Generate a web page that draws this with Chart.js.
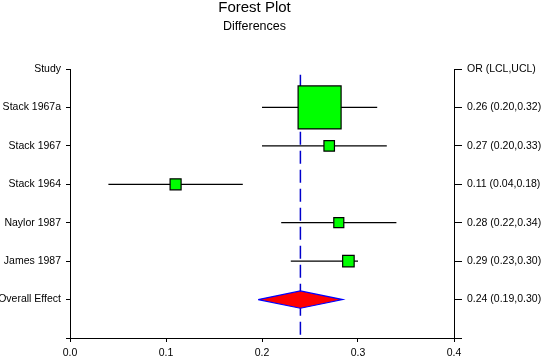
<!DOCTYPE html>
<html>
<head>
<meta charset="utf-8">
<script src="https://cdn.jsdelivr.net/npm/chart.js@4"></script>
<style>
  html, body { margin: 0; padding: 0; background: #fff; }
  #wrap { width: 541px; height: 358px; position: relative; }
</style>
</head>
<body>
<div id="wrap"><canvas id="c" width="541" height="358"></canvas></div>
<script>
// ---- data ----
const titleText = 'Forest Plot';
const subtitleText = 'Differences';
const leftHeader = 'Study';
const rightHeader = 'OR (LCL,UCL)';
const studies = ['Stack 1967a', 'Stack 1967', 'Stack 1964', 'Naylor 1987', 'James 1987'];
const estimates = [0.26, 0.27, 0.11, 0.28, 0.29];
const lowerCL = [0.20, 0.20, 0.04, 0.22, 0.23];
const upperCL = [0.32, 0.33, 0.18, 0.34, 0.30];
const weights = [43, 10.5, 11, 10, 11.5];      // relative study weight (box side)
const overallLabel = 'Overall Effect';
const overallEst = 0.24;
const overallLCL = 0.19;
const overallUCL = 0.30;
const diamondLo = 0.196;
const diamondHi = 0.284;
const xTicks = [0.0, 0.1, 0.2, 0.3, 0.4];

// ---- build ----
const FONT = "'Liberation Sans', Arial, sans-serif";
const f2 = v => v.toFixed(2);
const leftLabels = [leftHeader, ...studies, overallLabel, ''];
const rightLabels = [rightHeader,
  ...studies.map((s, i) => `${f2(estimates[i])} (${f2(lowerCL[i])},${f2(upperCL[i])})`),
  `${f2(overallEst)} (${f2(overallLCL)},${f2(overallUCL)})`, ''];
const nRows = leftLabels.length - 1;

const datasets = [];
datasets.push({
  showLine: true, order: 10,
  data: [{x: overallEst, y: 0.15}, {x: overallEst, y: nRows}],
  borderColor: '#0000CC', borderWidth: 1.5, borderDash: [13, 6],
  pointRadius: 0, fill: false
});
studies.forEach((s, i) => {
  datasets.push({
    showLine: true, order: 5,
    data: [{x: lowerCL[i], y: i + 1}, {x: upperCL[i], y: i + 1}],
    borderColor: '#000', borderWidth: 1.2, pointRadius: 0, fill: false
  });
});
const boxR = weights.map(w => w / (2 * Math.SQRT1_2));
datasets.push({
  order: 1,
  data: estimates.map((e, i) => ({x: e, y: i + 1})),
  pointStyle: 'rect',
  pointRadius: boxR, pointHoverRadius: boxR,
  backgroundColor: '#00FF00', borderColor: '#000', borderWidth: 1.2
});
const oy = studies.length + 1;
const dh = 0.226;
datasets.push({
  showLine: true, order: 1,
  data: [{x: diamondLo, y: oy}, {x: overallEst, y: oy - dh}, {x: diamondHi, y: oy},
         {x: overallEst, y: oy + dh}, {x: diamondLo, y: oy}],
  borderColor: '#0000FF', borderWidth: 1.2, backgroundColor: '#FF0000',
  fill: 'shape', tension: 0, pointRadius: 0
});

const X_AXIS_H = 20;
const layoutFix = {
  id: 'layoutFix',
  afterLayout(chart) {
    const bottom = chart.height - X_AXIS_H;
    const ca = chart.chartArea;
    ca.bottom = bottom; ca.height = bottom - ca.top;
    ['y', 'y2'].forEach(id => {
      const s = chart.scales[id];
      s.bottom = bottom; s.height = bottom - s.top;
      s.configure(); s._labelItems = null; s._gridLineItems = null;
    });
    const x = chart.scales.x;
    x.top = bottom; x.bottom = chart.height; x.height = X_AXIS_H;
    x.configure(); x._labelItems = null; x._gridLineItems = null;
  }
};

const titlePlugin = {
  id: 'titles',
  afterDraw(chart) {
    const ctx = chart.ctx;
    ctx.save();
    ctx.fillStyle = '#000';
    ctx.textAlign = 'center';
    ctx.textBaseline = 'alphabetic';
    ctx.font = `15px ${FONT}`;
    ctx.fillText(titleText, 254.5, 11.5);
    ctx.font = `12.5px ${FONT}`;
    ctx.fillText(subtitleText, 254.5, 29.5);
    ctx.restore();
  }
};

Chart.defaults.color = '#000';
Chart.defaults.font.family = FONT;
Chart.defaults.font.size = 10.5;

new Chart(document.getElementById('c'), {
  type: 'scatter',
  data: { datasets },
  plugins: [layoutFix, titlePlugin],
  options: {
    responsive: false, animation: false, events: [],
    layout: { padding: { top: 69, left: 0, right: 0, bottom: 0 } },
    plugins: { legend: { display: false }, tooltip: { enabled: false } },
    scales: {
      x: {
        type: 'linear', min: 0, max: 0.4,
        afterBuildTicks(scale) { scale.ticks = xTicks.map(v => ({value: v})); },
        afterFit(scale) { scale.height = X_AXIS_H; },
        ticks: { callback: v => Number(v).toFixed(1), padding: 5, maxRotation: 0 },
        grid: { drawOnChartArea: false, tickLength: 4, color: '#000' },
        border: { color: '#000' }
      },
      y: {
        type: 'linear', position: 'left', min: 0, max: nRows, reverse: true,
        afterBuildTicks(scale) { scale.ticks = leftLabels.map((l, i) => ({value: i})); },
        afterFit(scale) { scale.width = 70; },
        ticks: { callback: (v) => leftLabels[v], padding: 5 },
        grid: { drawOnChartArea: false, tickLength: 4, color: '#000' },
        border: { color: '#000' }
      },
      y2: {
        type: 'linear', position: 'right', min: 0, max: nRows, reverse: true,
        afterBuildTicks(scale) { scale.ticks = rightLabels.map((l, i) => ({value: i})); },
        afterFit(scale) { scale.width = 87; },
        ticks: { callback: (v) => rightLabels[v], padding: 5 },
        grid: { drawOnChartArea: false, tickLength: 8, color: '#000' },
        border: { color: '#000' }
      }
    }
  }
});
</script>
</body>
</html>
